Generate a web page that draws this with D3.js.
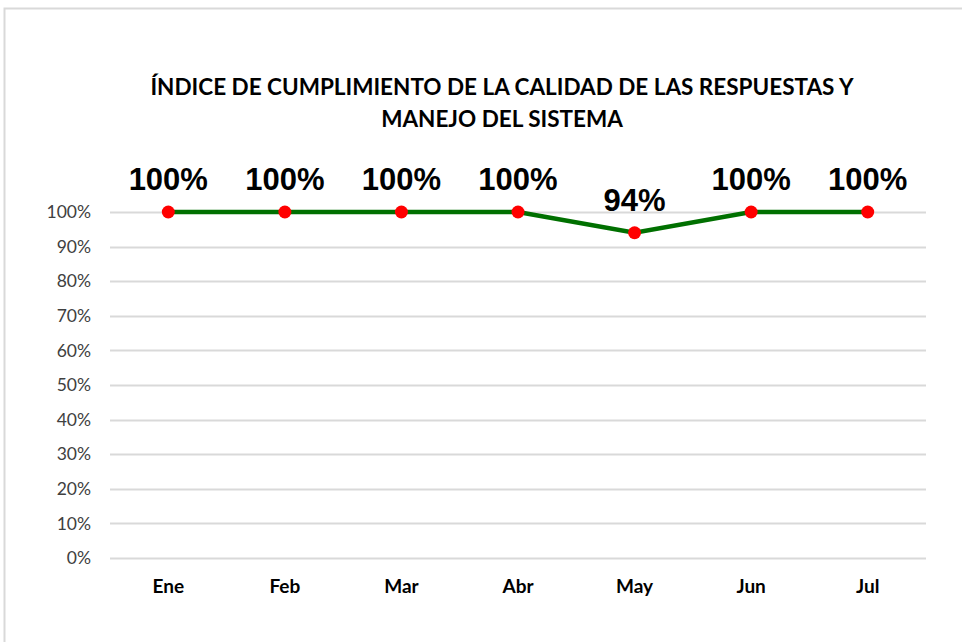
<!DOCTYPE html>
<html>
<head>
<meta charset="utf-8">
<script src="https://cdn.jsdelivr.net/npm/d3@7"></script>
<style>
  body { margin: 0; background: #fff; }
  svg { display: block; }
</style>
</head>
<body>
<div id="chart"></div>
<script>
// chart data
var months = ["Ene", "Feb", "Mar", "Abr", "May", "Jun", "Jul"];
var values = [1.00, 1.00, 1.00, 1.00, 0.94, 1.00, 1.00];
var yTicks = [0, 0.1, 0.2, 0.3, 0.4, 0.5, 0.6, 0.7, 0.8, 0.9, 1.0];
var titleLines = ["ÍNDICE DE CUMPLIMIENTO DE LA CALIDAD DE LAS RESPUESTAS Y", "MANEJO DEL SISTEMA"];

var width = 962;
var height = 642;
var margin = { top: 212, right: 36, bottom: 84, left: 110 };

var svg = d3.select("#chart")
    .append("svg")
    .attr("width", width)
    .attr("height", height);

// outer frame (only top and left edges are visible in the picture)
svg.append("path")
    .attr("d", "M4.5," + height + "V8.5H" + width)
    .attr("fill", "none")
    .attr("stroke", "#d9d9d9")
    .attr("stroke-width", 2);

// title
svg.append("text")
    .attr("x", 502)
    .attr("y", 95)
    .attr("text-anchor", "middle")
    .style("font-family", "Lato, 'Open Sans', sans-serif")
    .style("font-weight", "bold")
    .style("font-size", "22.5px")
    .attr("fill", "#000")
    .selectAll("tspan")
    .data(titleLines)
    .enter().append("tspan")
    .attr("x", 502)
    .attr("dy", function (d, i) { return i === 0 ? 0 : 32; })
    .text(function (d) { return d; });

// scales
var xScale = d3.scaleBand()
    .domain(months)
    .range([margin.left, width - margin.right]);

var yScale = d3.scaleLinear()
    .domain([0, 1])
    .range([height - margin.bottom, margin.top]);

// gridlines
svg.append("g")
    .selectAll("line")
    .data(yTicks)
    .enter().append("line")
    .attr("x1", margin.left)
    .attr("x2", width - margin.right)
    .attr("y1", function (d) { return Math.round(yScale(d)) + 0.5; })
    .attr("y2", function (d) { return Math.round(yScale(d)) + 0.5; })
    .attr("stroke", "#d9d9d9")
    .attr("stroke-width", 2);

// y axis labels
var yAxis = d3.axisLeft(yScale)
    .tickValues(yTicks)
    .tickFormat(d3.format(".0%"))
    .tickSize(0)
    .tickPadding(19);

var yg = svg.append("g")
    .attr("transform", "translate(" + margin.left + ",0)")
    .call(yAxis);
yg.select(".domain").remove();
yg.selectAll("text")
    .style("font-family", "Lato, 'Open Sans', sans-serif")
    .style("font-size", "17.5px")
    .attr("fill", "#404040");

// x axis labels
var xAxis = d3.axisBottom(xScale)
    .tickSize(0)
    .tickPadding(22);

var xg = svg.append("g")
    .attr("transform", "translate(0," + (height - margin.bottom) + ")")
    .call(xAxis);
xg.select(".domain").remove();
xg.selectAll("text")
    .style("font-family", "Lato, 'Open Sans', sans-serif")
    .style("font-weight", "bold")
    .style("font-size", "19px")
    .attr("fill", "#000");

// line
var line = d3.line()
    .x(function (d, i) { return xScale(months[i]) + xScale.bandwidth() / 2; })
    .y(function (d) { return yScale(d); });

svg.append("path")
    .datum(values)
    .attr("fill", "none")
    .attr("stroke", "#007000")
    .attr("stroke-width", 4.5)
    .attr("d", line);

// points
svg.append("g")
    .selectAll("circle")
    .data(values)
    .enter().append("circle")
    .attr("cx", function (d, i) { return xScale(months[i]) + xScale.bandwidth() / 2; })
    .attr("cy", function (d) { return yScale(d); })
    .attr("r", 6.5)
    .attr("fill", "#ff0000");

// data labels
svg.append("g")
    .selectAll("text")
    .data(values)
    .enter().append("text")
    .attr("x", function (d, i) { return xScale(months[i]) + xScale.bandwidth() / 2; })
    .attr("y", function (d) { return yScale(d) - 22; })
    .attr("text-anchor", "middle")
    .style("font-family", "'Liberation Sans', Arial, sans-serif")
    .style("font-weight", "bold")
    .style("font-size", "31px")
    .attr("fill", "#000")
    .text(function (d) { return d3.format(".0%")(d); });
</script>
</body>
</html>
